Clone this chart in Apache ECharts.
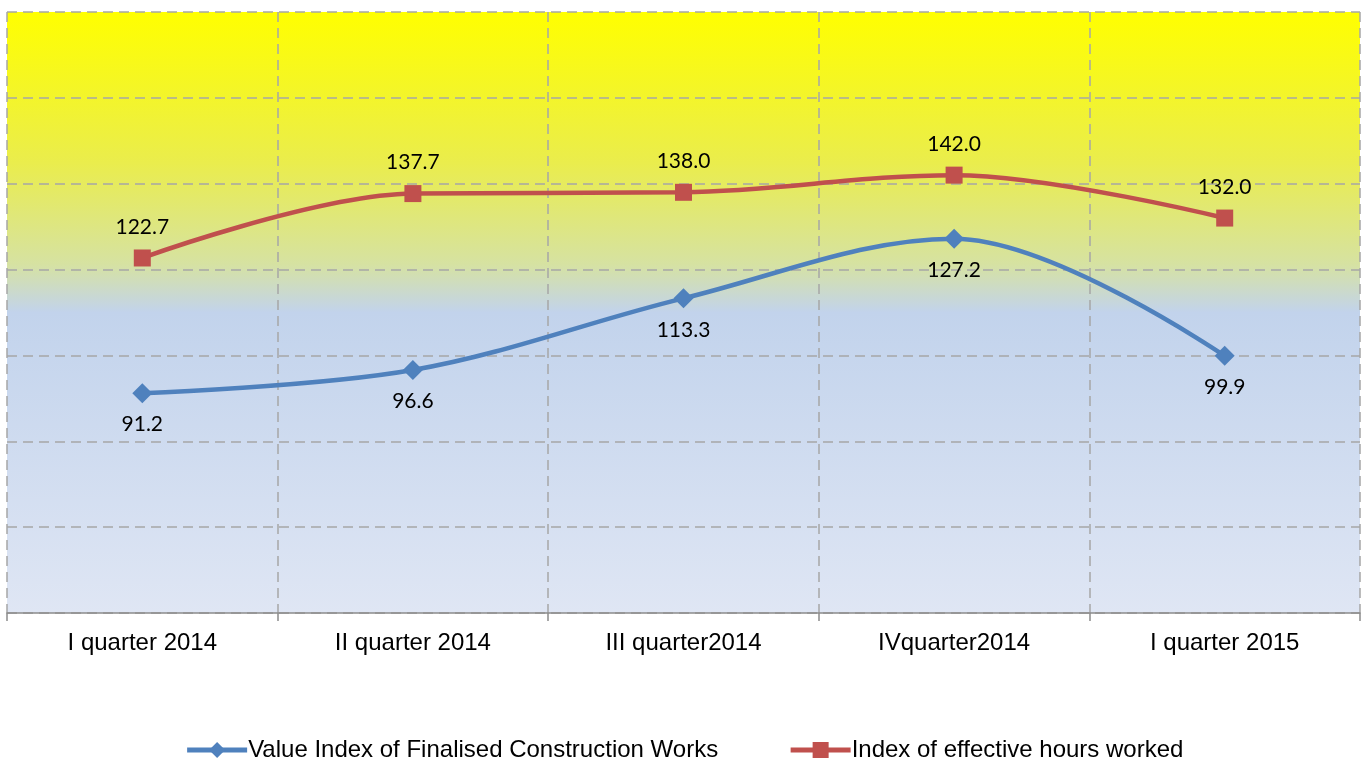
<!DOCTYPE html>
<html>
<head>
<meta charset="utf-8">
<script src="https://cdn.jsdelivr.net/npm/echarts@6/dist/echarts.min.js"></script>
<style>
html,body{margin:0;padding:0;background:#fff;}
#chart{width:1368px;height:760px;}
</style>
</head>
<body>
<div id="chart"></div>
<script>
// data
var quarters = ['I quarter 2014', 'II quarter 2014', 'III quarter2014', 'IVquarter2014', 'I quarter 2015'];
var valueIndex = [91.2, 96.6, 113.3, 127.2, 99.9];
var hoursIndex = [122.7, 137.7, 138.0, 142.0, 132.0];

var chart = echarts.init(document.getElementById('chart'));
window.onresize = chart.resize;

chart.setOption({
	animation: false,
	grid: {
		left: 7, right: 8, top: 12, bottom: 147,
		show: true,
		borderWidth: 0,
		backgroundColor: new echarts.graphic.LinearGradient(0, 0, 0, 1, [
			{offset: 0, color: '#FFFF00'},
			{offset: 0.25, color: '#EAED4C'},
			{offset: 0.42, color: '#D6E2A2'},
			{offset: 0.5, color: '#C2D3EC'},
			{offset: 1, color: '#DFE6F4'}
		])
	},
	legend: {
		top: 733,
		itemWidth: 60,
		itemHeight: 20,
		itemGap: 70,
		lineStyle: {width: 5},
		textStyle: {fontFamily: 'Liberation Sans', fontSize: 24, color: '#000', padding: [0, 0, 0, -4]},
		data: ['Value Index of Finalised Construction Works', 'Index of effective hours worked']
	},
	xAxis: {
		type: 'category',
		data: quarters,
		boundaryGap: true,
		axisLine: {lineStyle: {color: '#8C8C8C', width: 1.5}},
		axisTick: {show: true, length: 8, lineStyle: {color: '#8C8C8C', width: 1.5}},
		axisLabel: {fontFamily: 'Liberation Sans', fontSize: 24, color: '#000', margin: 18},
		splitLine: {show: true, lineStyle: {color: '#A6A6A6', type: [10, 6], width: 1.5}}
	},
	yAxis: {
		type: 'value',
		min: 40, max: 180, interval: 20,
		axisLine: {show: false},
		axisTick: {show: false},
		axisLabel: {show: false},
		splitLine: {show: true, lineStyle: {color: '#A6A6A6', type: [10, 6], width: 1.5}}
	},
	series: [{
		name: 'Value Index of Finalised Construction Works',
		type: 'line',
		smooth: 0.35,
		data: valueIndex,
		symbol: 'diamond',
		symbolSize: 20,
		color: '#4F81BD',
		lineStyle: {width: 4.5, color: '#4F81BD'},
		label: {
			show: true, position: 'bottom', distance: 11,
			formatter: function (p) { return p.value.toFixed(1); },
			fontFamily: 'Lato', fontSize: 21, color: '#000'
		}
	}, {
		name: 'Index of effective hours worked',
		type: 'line',
		smooth: 0.35,
		data: hoursIndex,
		symbol: 'rect',
		symbolSize: 17,
		color: '#C0504D',
		lineStyle: {width: 4.5, color: '#C0504D'},
		label: {
			show: true, position: 'top', distance: 12,
			formatter: function (p) { return p.value.toFixed(1); },
			fontFamily: 'Lato', fontSize: 21, color: '#000'
		}
	}]
});
</script>
</body>
</html>
